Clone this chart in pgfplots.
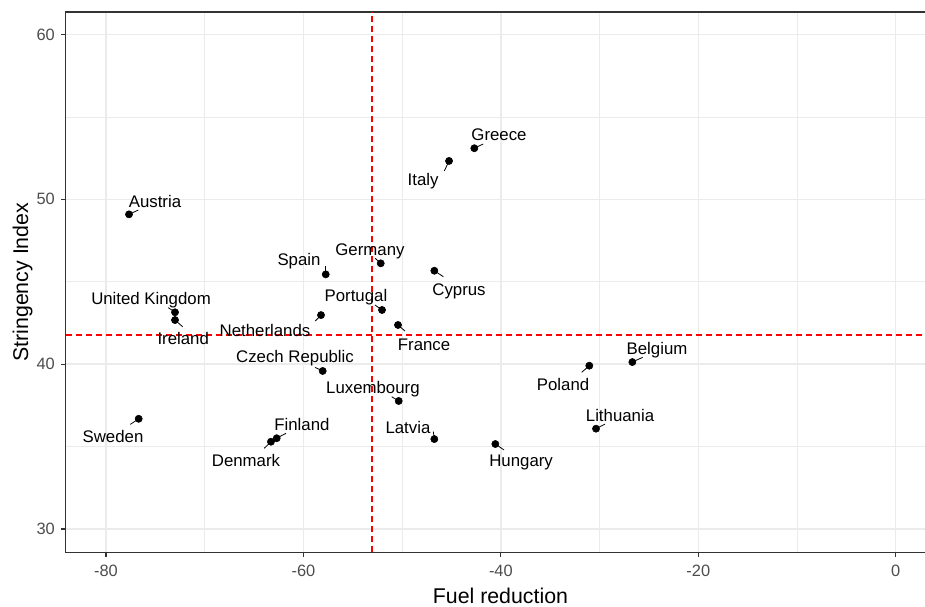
\documentclass[border=0pt]{standalone}
\usepackage{pgfplots}
\pgfplotsset{compat=1.18}
\usepackage{fontspec}
\setmainfont{Liberation Sans}
\definecolor{gridc}{RGB}{235,235,235}
\definecolor{tickgray}{RGB}{77,77,77}
\definecolor{framec}{RGB}{51,51,51}
\pgfplotstableread{
x y
-77.67 49.09
-57.74 45.45
-52.17 46.12
-73.01 43.15
-73.01 42.68
-58.22 42.98
-58.05 39.59
-52.04 43.29
-46.74 45.67
-45.25 52.33
-42.69 53.10
-50.42 42.38
-50.35 37.77
-46.74 35.46
-40.56 35.16
-31.04 39.91
-26.68 40.13
-30.36 36.09
-76.69 36.69
-62.71 35.51
-63.29 35.30
}\pts
\begin{document}
\begin{tikzpicture}
\begin{axis}[
  scale only axis, width=652.1pt, height=405.2pt,
  xmin=-84.08, xmax=4, ymin=28.59, ymax=61.36,
  xtick={-80,-60,-40,-20,0}, xticklabels={-80,-60,-40,-20,0},
  ytick={30,40,50,60}, yticklabels={30,40,50,60},
  minor xtick={-70,-50,-30,-10}, minor ytick={35,45,55},
  grid=both,
  major grid style={gridc, line width=1.1pt},
  minor grid style={gridc, line width=0.6pt},
  axis line style={framec, line width=1.1pt},
  major tick style={framec, line width=0.9pt},
  major tick length=3.2pt, minor tick length=0pt,
  tick align=outside, tick pos=left,
  ticklabel style={font=\fontsize{12.3}{14}\selectfont, text=tickgray, inner sep=0pt},
  xticklabel style={anchor=north},
  yticklabel style={anchor=east},
  xticklabel shift=6.3pt, yticklabel shift=4.8pt,
  xlabel={Fuel reduction}, ylabel={Stringency Index},
  label style={font=\fontsize{16}{18}\selectfont, inner sep=0pt},
  xlabel style={at={(rel axis cs:0.5,0)}, anchor=north, yshift=-26.5pt},
  ylabel style={at={(rel axis cs:-0.0497,0.5)}, anchor=center},
  clip=false,
]
\coordinate (sw) at (rel axis cs:0,0);
\addplot[red, line width=1pt, dash pattern=on 4.5pt off 3pt] coordinates {(-53.05,28.59) (-53.05,61.36)};
\addplot[red, line width=1pt, dash pattern=on 4.5pt off 3pt] coordinates {(-84.08,41.77) (4,41.77)};
% label segments
\draw[black, line width=0.6pt] (axis cs:-77.67,49.09) -- (axis cs:-76.73,49.35);
\draw[black, line width=0.6pt] (axis cs:-57.74,45.45) -- (axis cs:-57.74,45.96);
\draw[black, line width=0.6pt] (axis cs:-73.01,43.15) -- (axis cs:-73.69,43.43);
\draw[black, line width=0.6pt] (axis cs:-73.01,42.68) -- (axis cs:-72.23,42.27);
\draw[black, line width=0.6pt] (axis cs:-58.22,42.98) -- (axis cs:-58.80,42.62);
\draw[black, line width=0.6pt] (axis cs:-58.05,39.59) -- (axis cs:-58.83,39.81);
\draw[black, line width=0.6pt] (axis cs:-52.17,46.12) -- (axis cs:-52.72,46.42);
\draw[black, line width=0.6pt] (axis cs:-52.04,43.29) -- (axis cs:-52.75,43.59);
\draw[black, line width=0.6pt] (axis cs:-46.74,45.67) -- (axis cs:-45.83,45.31);
\draw[black, line width=0.6pt] (axis cs:-45.25,52.33) -- (axis cs:-45.73,51.72);
\draw[black, line width=0.6pt] (axis cs:-42.69,53.10) -- (axis cs:-41.78,53.36);
\draw[black, line width=0.6pt] (axis cs:-50.35,37.77) -- (axis cs:-51.06,38.03);
\draw[black, line width=0.6pt] (axis cs:-46.74,35.46) -- (axis cs:-46.84,35.91);
\draw[black, line width=0.6pt] (axis cs:-40.56,35.16) -- (axis cs:-39.68,34.80);
\draw[black, line width=0.6pt] (axis cs:-50.42,42.38) -- (axis cs:-49.71,42.01);
\draw[black, line width=0.6pt] (axis cs:-31.04,39.91) -- (axis cs:-31.81,39.51);
\draw[black, line width=0.6pt] (axis cs:-26.68,40.13) -- (axis cs:-25.63,40.42);
\draw[black, line width=0.6pt] (axis cs:-30.36,36.09) -- (axis cs:-29.45,36.37);
\draw[black, line width=0.6pt] (axis cs:-76.69,36.69) -- (axis cs:-77.54,36.35);
\draw[black, line width=0.6pt] (axis cs:-62.71,35.51) -- (axis cs:-61.77,35.81);
\draw[black, line width=0.6pt] (axis cs:-63.29,35.30) -- (axis cs:-63.97,34.90);
\addplot[only marks, mark=*, mark size=2.7pt, black] table[x=x, y=y] {\pts};
\begin{scope}[every node/.style={font=\fontsize{12.6}{14}\selectfont, text=black, inner sep=0pt, anchor=center}]
\node at (axis cs:-75.04,49.90) {Austria};
\node at (axis cs:-40.19,53.90) {Greece};
\node at (axis cs:-47.88,51.11) {Italy};
\node at (axis cs:-53.26,46.87) {Germany};
\node at (axis cs:-60.45,46.26) {Spain};
\node at (axis cs:-44.24,44.44) {Cyprus};
\node at (axis cs:-75.44,43.89) {United Kingdom};
\node at (axis cs:-54.68,44.08) {Portugal};
\node at (axis cs:-63.89,42.07) {Netherlands};
\node at (axis cs:-72.18,41.59) {Ireland};
\node at (axis cs:-47.78,41.16) {France};
\node at (axis cs:-60.85,40.38) {Czech Republic};
\node at (axis cs:-24.18,40.86) {Belgium};
\node at (axis cs:-33.70,38.74) {Poland};
\node at (axis cs:-52.96,38.50) {Luxembourg};
\node at (axis cs:-27.93,36.92) {Lithuania};
\node at (axis cs:-49.41,36.19) {Latvia};
\node at (axis cs:-60.15,36.37) {Finland};
\node at (axis cs:-79.29,35.62) {Sweden};
\node at (axis cs:-65.82,34.19) {Denmark};
\node at (axis cs:-37.95,34.07) {Hungary};
\end{scope}
\end{axis}
\pgfresetboundingbox
\path[use as bounding box] (sw) ++(-49.3pt,-41pt) rectangle ++(693.75pt,455.25pt);
\end{tikzpicture}
\end{document}
